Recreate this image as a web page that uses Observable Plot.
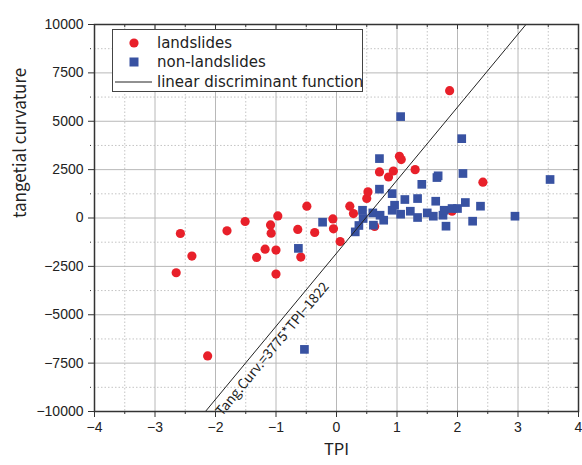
<!DOCTYPE html>
<html>
<head>
<meta charset="utf-8">
<script src="https://cdn.jsdelivr.net/npm/d3@7"></script>
<script src="https://cdn.jsdelivr.net/npm/@observablehq/plot@0.6"></script>
<style>
  html, body { margin: 0; padding: 0; background: #fff; }
  #wrap { position: relative; width: 582px; height: 465px; }
  #legend {
    position: absolute; left: 112px; top: 29px; width: 249px; height: 61px;
    border: 1.5px solid #444; background: #fff;
    font-family: "DejaVu Sans", "Noto Sans", sans-serif; font-size: 15px; color: #222;
  }
  #legend .row { position: absolute; left: 0; height: 18px; white-space: nowrap; }
  #legend .row svg { position: absolute; left: 0; top: -1px; }
  #legend .row span { position: absolute; display: block; left: 44px; top: 0; height: 18px; line-height: 18px; }
</style>
</head>
<body>
<div id="wrap"></div>
<script>
// ---- data ----
const landTPI  = [-2.58, -2.39, -2.65, -2.13, -1.81, -1.51, -1.09, -1.08, -0.97, -1.18, -1.32, -1.00, -1.00,
                  -0.49, -0.64, -0.59, -0.36, -0.06, -0.05, 0.06, 0.22, 0.28, 0.50, 0.52, 0.63, 0.71, 0.86,
                  0.94, 1.04, 1.07, 1.30, 1.91, 2.42, 1.87];
const landCurv = [-800, -1970, -2830, -7130, -665, -180, -356, -785, 108, -1610, -2040, -1660, -2900,
                  610, -590, -2020, -750, -46, -560, -1220, 610, 230, 1010, 1350, -440, 2380, 2120,
                  2430, 3190, 3020, 2500, 350, 1850, 6580];
const nonTPI   = [-0.23, -0.63, -0.53, 0.71, 0.71, 0.92, 1.66, 1.68, 2.09, 1.41, 1.13, 1.34, 0.96, 0.92,
                  1.06, 1.22, 1.34, 1.50, 1.60, 1.64, 1.76, 1.81, 1.78, 1.91, 2.00, 2.13, 2.25, 2.38,
                  2.95, 3.53, 0.43, 0.44, 0.37, 0.31, 0.60, 0.61, 0.72, 0.78, 1.06, 2.07];
const nonCurv  = [-217, -1570, -6790, 3070, 1490, 1260, 2090, 2180, 2300, 1740, 955, 1005, 660, 400,
                  196, 350, 26, 263, 93, 867, 144, -423, 400, 490, 490, 800, -165, 610,
                  93, 1990, 400, -26, -387, -717, 263, -370, 144, -114, 5240, 4100];
const xMajor = [-4, -3, -2, -1, 0, 1, 2, 3, 4];
const xMinor = [-3.5, -2.5, -1.5, -0.5, 0.5, 1.5, 2.5, 3.5];
const yMajor = [-10000, -7500, -5000, -2500, 0, 2500, 5000, 7500, 10000];
const yMinor = [-8750, -6250, -3750, -1250, 1250, 3750, 6250, 8750];
const ldfSlope = 3775, ldfIntercept = -1822;
const ldfLabel = "Tang.Curv.=3775*TPI\u22121822";
const seriesNames = ["landslides", "non-landslides", "linear discriminant function"];
const xTitle = "TPI", yTitle = "tangetial curvature";

const red = "#e8202a", blue = "#3852a2";
const land = landTPI.map((x, i) => ({x, y: landCurv[i]}));
const non = nonTPI.map((x, i) => ({x, y: nonCurv[i]}));
const yLo = -10000, yHi = 10000;
const ldf = [yLo, yHi].map(y => ({x: (y - ldfIntercept) / ldfSlope, y}));
const labelX = -1.06;
const ldfText = [{x: labelX, y: ldfSlope * labelX + ldfIntercept - 950, t: ldfLabel}];
const fmt = d => d < 0 ? "\u2212" + (-d) : String(d);
const CJK = "'Noto Sans CJK JP', 'Noto Sans', sans-serif";

const chart = Plot.plot({
  width: 582, height: 465,
  marginLeft: 94, marginRight: 4, marginTop: 24, marginBottom: 54,
  x: {domain: [-4, 4]},
  y: {domain: [yLo, yHi]},
  style: {fontFamily: "'Liberation Sans', Arial, sans-serif", fontSize: "14px", color: "#222", background: "#fff"},
  marks: [
    Plot.gridX(xMinor, {stroke: "#c4c4c4", strokeOpacity: 1, strokeDasharray: "1.5,2"}),
    Plot.gridY(yMinor, {stroke: "#c4c4c4", strokeOpacity: 1, strokeDasharray: "1.5,2"}),
    Plot.gridX(xMajor, {stroke: "#b8b8b8", strokeOpacity: 1}),
    Plot.gridY(yMajor, {stroke: "#b8b8b8", strokeOpacity: 1}),
    Plot.dot(land, {x: "x", y: "y", r: 4.6, fill: red, symbol: "circle"}),
    Plot.dot(non, {x: "x", y: "y", r: 4.9, fill: blue, symbol: "square"}),
    Plot.line(ldf, {x: "x", y: "y", stroke: "#222", strokeWidth: 1}),
    Plot.text(ldfText, {x: "x", y: "y", text: "t", rotate: -50.4, fontSize: 13.5, fontFamily: CJK, fill: "#222"}),
    Plot.frame({stroke: "#333", strokeWidth: 1.5}),
    Plot.axisX(xMajor, {anchor: "bottom", tickSize: 6, tickPadding: 5, tickFormat: fmt, label: null, stroke: "#333", fontSize: 14}),
    Plot.tickX(xMinor, {x: d => d, insetTop: 387, insetBottom: -3, stroke: "#333"}),
    Plot.axisY(yMajor, {anchor: "left", tickSize: 6, tickPadding: 5, tickFormat: fmt, label: null, stroke: "#333", fontSize: 14}),
    Plot.tickY(yMinor, {y: d => d, insetLeft: -3, insetRight: 488, stroke: "#333"}),
    Plot.tickX(xMajor, {x: d => d, insetBottom: 382, stroke: "#333"}),
    Plot.tickX(xMinor, {x: d => d, insetBottom: 384, stroke: "#333"}),
    Plot.tickY(yMajor, {y: d => d, insetLeft: 479, stroke: "#333"}),
    Plot.tickY(yMinor, {y: d => d, insetLeft: 481, stroke: "#333"}),
    Plot.text([xTitle], {frameAnchor: "bottom", dy: 43, fontSize: 16.5, fontFamily: CJK, fill: "#222"}),
    Plot.text([yTitle], {frameAnchor: "left", dx: -74, rotate: -90, fontSize: 17, fontFamily: CJK, fill: "#222"})
  ]
});

const wrap = document.getElementById("wrap");
wrap.appendChild(chart);

// legend overlay
const legend = document.createElement("div");
legend.id = "legend";
const rows = [
  {name: seriesNames[0], svg: `<circle cx="21" cy="10" r="4.6" fill="${red}"/>`},
  {name: seriesNames[1], svg: `<rect x="16.5" y="5.5" width="9" height="9" fill="${blue}"/>`},
  {name: seriesNames[2], svg: `<line x1="2" x2="39" y1="10" y2="10" stroke="#222" stroke-width="1"/>`}
];
rows.forEach((r, i) => {
  const row = document.createElement("div");
  row.className = "row";
  row.style.top = (3.5 + i * 19.8) + "px";
  row.style.width = "249px";
  row.innerHTML = `<svg width="42" height="20">${r.svg}</svg><span>${r.name}</span>`;
  legend.appendChild(row);
});
wrap.appendChild(legend);
</script>
</body>
</html>
